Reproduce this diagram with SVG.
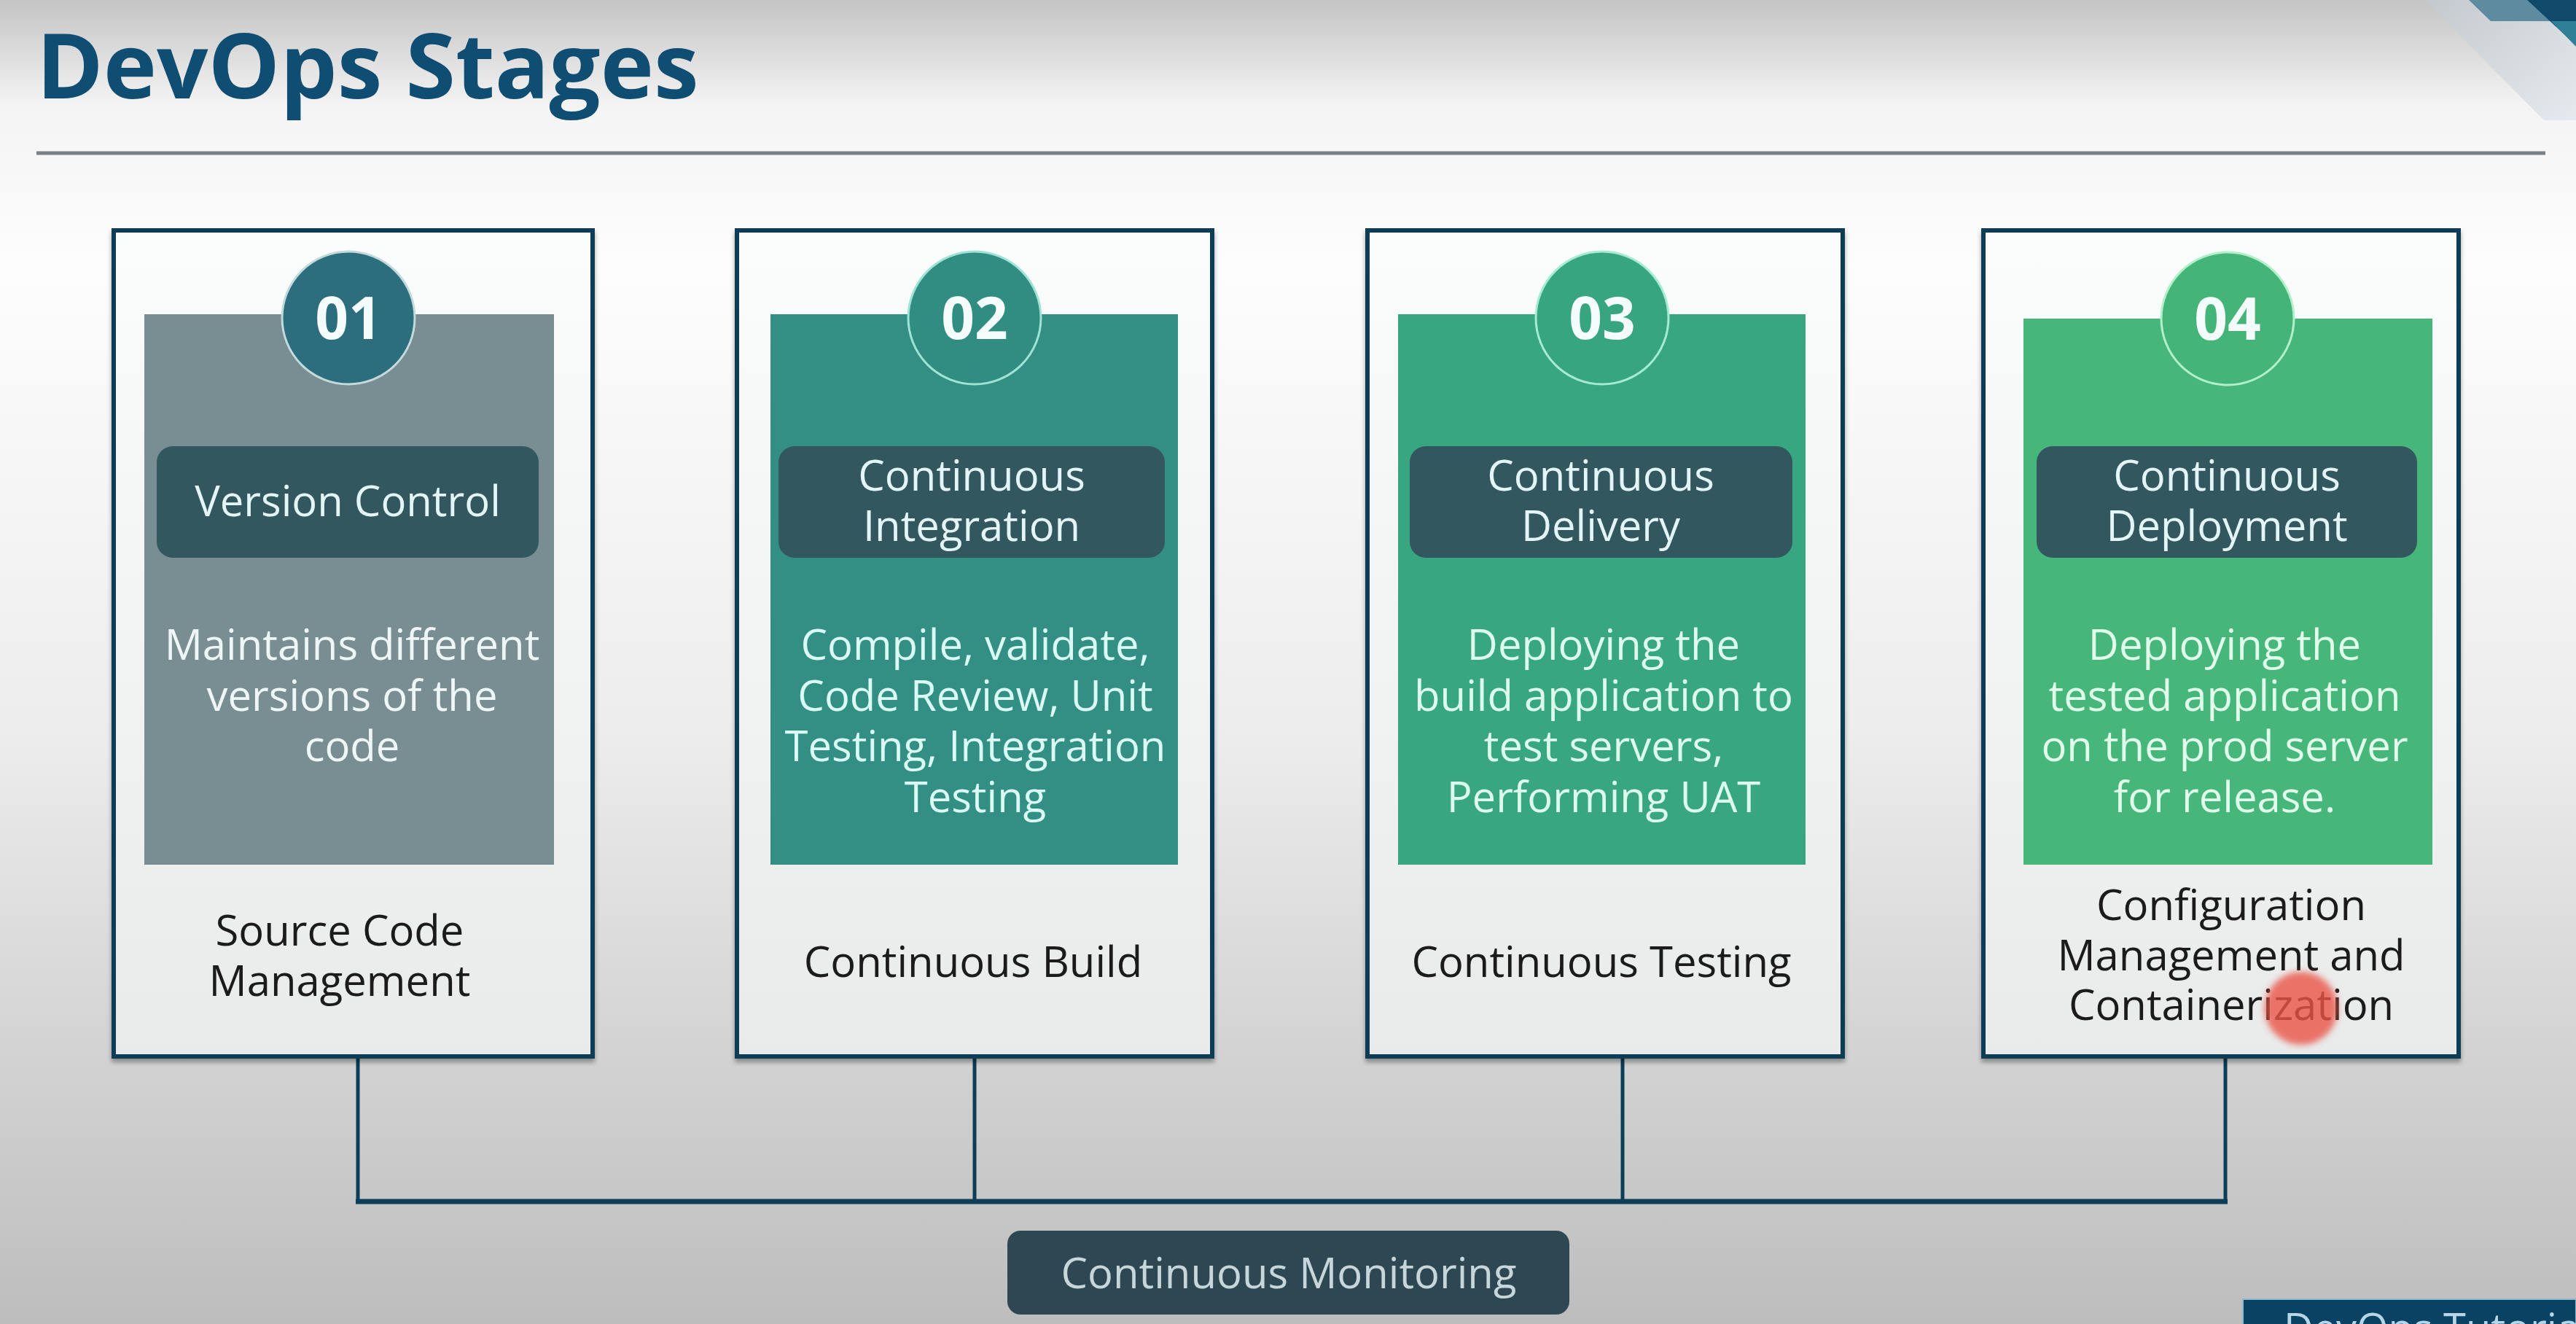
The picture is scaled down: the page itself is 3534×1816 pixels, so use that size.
<svg xmlns="http://www.w3.org/2000/svg" width="3534" height="1816" viewBox="0 0 3534 1816">
  <defs>
    <linearGradient id="bg" x1="0" y1="0" x2="0" y2="1">
      <stop offset="0" stop-color="#c4c4c4"/>
      <stop offset="0.08" stop-color="#f4f4f4"/>
      <stop offset="0.2" stop-color="#fdfdfd"/>
      <stop offset="0.55" stop-color="#ededed"/>
      <stop offset="1" stop-color="#bdbdbd"/>
    </linearGradient>
    <linearGradient id="card" x1="0" y1="0" x2="0" y2="1">
      <stop offset="0" stop-color="#fbfcfc"/>
      <stop offset="1" stop-color="#e9eaea"/>
    </linearGradient>
    <linearGradient id="corner" x1="0" y1="0" x2="1" y2="1">
      <stop offset="0" stop-color="#c4c9ce"/>
      <stop offset="1" stop-color="#e6eaee"/>
    </linearGradient>
    <filter id="shadow" x="-5%" y="-5%" width="110%" height="110%">
      <feDropShadow dx="0" dy="5" stdDeviation="3" flood-color="#000" flood-opacity="0.35"/>
    </filter>
    <filter id="soft" x="-50%" y="-50%" width="200%" height="200%">
      <feGaussianBlur stdDeviation="4"/>
    </filter>
  </defs>
  <style>
    text { font-family: "Open Sans", "Liberation Sans", sans-serif; text-anchor: middle; }
    .title { font-size: 124px; font-weight: 700; fill: #0f4d72; text-anchor: start; }
    .frame { fill: url(#card); stroke: #0b3c57; stroke-width: 6; filter: url(#shadow); }
    .badge { stroke-width: 3; }
    .num { font-size: 80px; font-weight: 700; fill: #f4fbfb; }
    .tag { fill: #33575f; }
    .tagtxt { font-size: 58px; fill: #e4f5f8; }
    .body { font-size: 58px; }
    .foot { font-size: 58px; fill: #1b1b1b; }
    .wire { stroke: #0c3e58; fill: none; }
  </style>

  <!-- page background -->
  <rect x="0" y="0" width="3534" height="1816" fill="url(#bg)"/>

  <!-- top-right corner ornament -->
  <polygon points="3327,0 3534,0 3534,165 3490,165" fill="url(#corner)"/>
  <polygon points="3387,0 3534,0 3534,29 3417,29" fill="#5f8ba1"/>
  <polygon points="3467,0 3534,0 3534,62" fill="#0f4a6b"/>
  <polygon points="3500,29 3534,29 3534,64 3500,29" fill="#2f7f97"/>

  <!-- heading -->
  <g id="heading">
    <text class="title" x="50" y="135">DevOps Stages</text>
    <line x1="50" y1="210" x2="3492" y2="210" stroke="#7b8085" stroke-width="5"/>
  </g>

  <!-- connectors -->
  <g id="connectors">
    <path class="wire" stroke-width="5" d="M491,1452 V1648 M1337,1452 V1648 M2226,1452 V1648 M3053,1452 V1648"/>
    <path class="wire" stroke-width="7" d="M488,1648 H3056"/>
  </g>

  <!-- stage 01 -->
  <g id="stage-1">
    <rect class="frame" x="156" y="316" width="657" height="1133"/>
    <rect x="198" y="431" width="562" height="755" fill="#788e92"/>
    <circle class="badge" cx="478" cy="436" r="91" fill="#2c6e7d" stroke="#c3dadd"/>
    <text class="num" x="478" y="465">01</text>
    <rect class="tag" x="215" y="612" width="524" height="153" rx="22"/>
    <text class="tagtxt" x="477" y="708">Version Control</text>
    <text class="body" fill="#eef6f7"><tspan x="483" y="905">Maintains different</tspan><tspan x="483" y="975">versions of the</tspan><tspan x="483" y="1044">code</tspan></text>
    <text class="foot"><tspan x="466" y="1297">Source Code</tspan><tspan x="466" y="1366">Management</tspan></text>
  </g>

  <!-- stage 02 -->
  <g id="stage-2">
    <rect class="frame" x="1011" y="316" width="652" height="1133"/>
    <rect x="1057" y="431" width="559" height="755" fill="#338f84"/>
    <circle class="badge" cx="1337" cy="436" r="91" fill="#318d82" stroke="#9fe3d6"/>
    <text class="num" x="1337" y="465">02</text>
    <rect class="tag" x="1068" y="612" width="530" height="153" rx="22"/>
    <text class="tagtxt"><tspan x="1333" y="673">Continuous</tspan><tspan x="1333" y="742">Integration</tspan></text>
    <text class="body" fill="#d9fbf4"><tspan x="1338" y="905">Compile, validate,</tspan><tspan x="1338" y="975">Code Review, Unit</tspan><tspan x="1338" y="1044">Testing, Integration</tspan><tspan x="1338" y="1114">Testing</tspan></text>
    <text class="foot" x="1335" y="1340">Continuous Build</text>
  </g>

  <!-- stage 03 -->
  <g id="stage-3">
    <rect class="frame" x="1876" y="316" width="652" height="1133"/>
    <rect x="1918" y="431" width="559" height="755" fill="#39a682"/>
    <circle class="badge" cx="2198" cy="436" r="91" fill="#38a581" stroke="#a6ecd3"/>
    <text class="num" x="2198" y="465">03</text>
    <rect class="tag" x="1934" y="612" width="525" height="153" rx="22"/>
    <text class="tagtxt"><tspan x="2196" y="673">Continuous</tspan><tspan x="2196" y="742">Delivery</tspan></text>
    <text class="body" fill="#dcfbee"><tspan x="2200" y="905">Deploying the</tspan><tspan x="2200" y="975">build application to</tspan><tspan x="2200" y="1044">test servers,</tspan><tspan x="2200" y="1114">Performing UAT</tspan></text>
    <text class="foot" x="2197" y="1340">Continuous Testing</text>
  </g>

  <!-- stage 04 -->
  <g id="stage-4">
    <rect class="frame" x="2721" y="316" width="652" height="1133"/>
    <rect x="2776" y="437" width="561" height="749" fill="#46b67a"/>
    <circle class="badge" cx="3056" cy="437" r="91" fill="#45b479" stroke="#b2f0c9"/>
    <text class="num" x="3056" y="466">04</text>
    <rect class="tag" x="2794" y="612" width="522" height="153" rx="22"/>
    <text class="tagtxt"><tspan x="3055" y="673">Continuous</tspan><tspan x="3055" y="742">Deployment</tspan></text>
    <text class="body" fill="#e0fcea"><tspan x="3052" y="905">Deploying the</tspan><tspan x="3052" y="975">tested application</tspan><tspan x="3052" y="1044">on the prod server</tspan><tspan x="3052" y="1114">for release.</tspan></text>
    <text class="foot"><tspan x="3061" y="1262">Configuration</tspan><tspan x="3061" y="1331">Management and</tspan><tspan x="3061" y="1399">Containerization</tspan></text>
    <!-- pointer highlight -->
    <circle cx="3157" cy="1383" r="50" fill="#ea5546" opacity="0.8" filter="url(#soft)"/>
  </g>

  <!-- monitoring node -->
  <g id="monitoring">
    <rect x="1382" y="1688" width="771" height="115" rx="18" fill="#2e4853"/>
    <text x="1768" y="1767" font-size="58" fill="#c6d6da">Continuous Monitoring</text>
  </g>

  <!-- footer tab -->
  <g id="footer-tab">
    <rect x="3077" y="1782" width="457" height="40" fill="#0a4264" stroke="#8fb7cc" stroke-width="2"/>
    <text x="3133" y="1842" font-size="56" fill="#b5d6e6" style="text-anchor:start">DevOps Tutorial</text>
  </g>
</svg>
